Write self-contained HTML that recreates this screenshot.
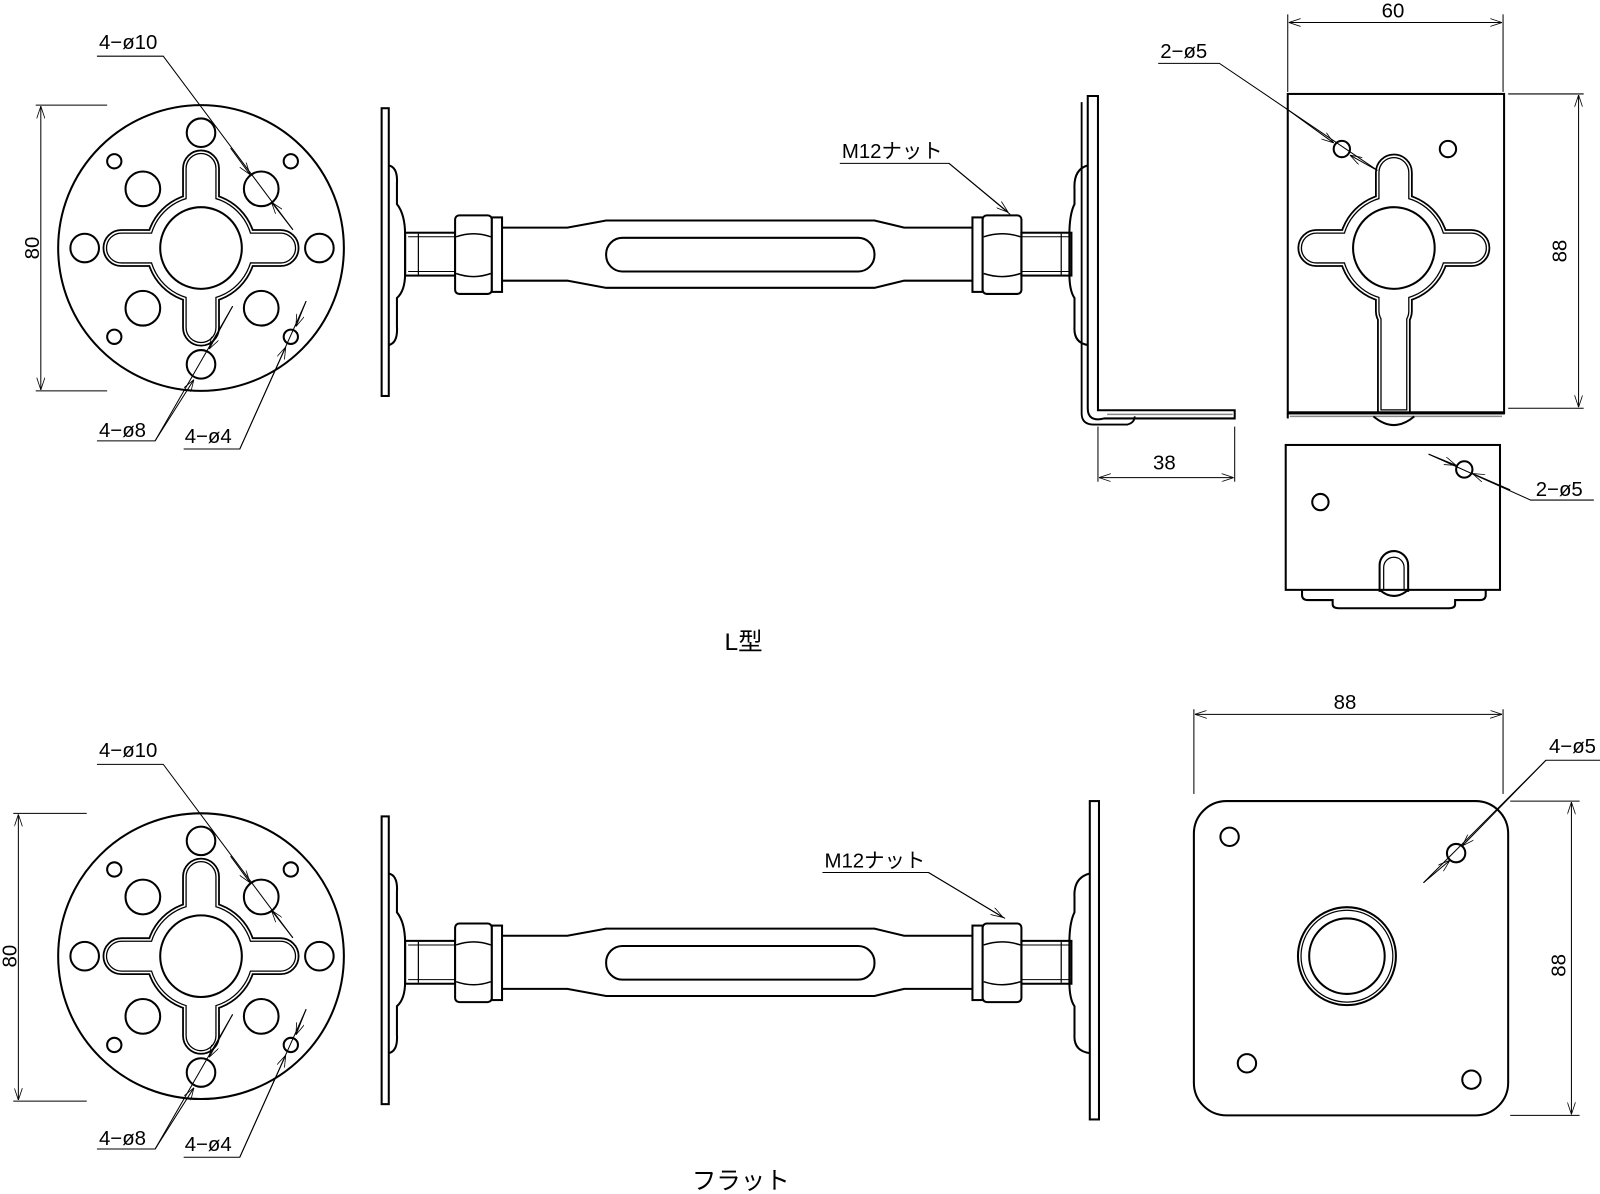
<!DOCTYPE html>
<html><head><meta charset="utf-8"><style>
html,body{margin:0;padding:0;background:#fff;}
svg{display:block;}
text{font-family:"Liberation Sans","Noto Sans CJK JP",sans-serif;fill:#000;}
</style></head><body>
<svg width="1600" height="1194" viewBox="0 0 1568 1170" xmlns="http://www.w3.org/2000/svg">
<defs>
<marker id="ar" viewBox="0 0 12 8" refX="12" refY="4" markerWidth="12" markerHeight="8" markerUnits="userSpaceOnUse" orient="auto-start-reverse">
<path d="M0,0 L12,4 L0,8" fill="none" stroke="#000" stroke-width="0.8"/>
</marker>
<g id="crossShapes">
<circle cx="0" cy="0" r="50"/>
<rect x="-92" y="-14" width="184" height="28" rx="14"/>
<rect x="-14" y="-92" width="28" height="184" rx="14"/>
</g>
<g id="roundplate">
<circle cx="0" cy="0" r="140" fill="#fff" stroke="#000" stroke-width="2"/>
<use href="#crossShapes" fill="none" stroke="#000" stroke-width="9"/>
<use href="#crossShapes" fill="none" stroke="#fff" stroke-width="5.5"/>
<use href="#crossShapes" fill="none" stroke="#000" stroke-width="2.5"/>
<use href="#crossShapes" fill="#fff" stroke="none"/>
<circle cx="0" cy="0" r="40" fill="none" stroke="#000" stroke-width="2"/>
<g fill="none" stroke="#000" stroke-width="2">
<circle cx="-57" cy="-58" r="17"/><circle cx="59" cy="-58" r="17"/>
<circle cx="-57" cy="59" r="17"/><circle cx="59" cy="59" r="17"/>
<circle cx="0" cy="-113" r="14"/><circle cx="0" cy="114" r="14"/>
<circle cx="-114" cy="0" r="14"/><circle cx="116" cy="0" r="14"/>
<circle cx="-85" cy="-85" r="7"/><circle cx="88" cy="-85" r="7"/>
<circle cx="-85" cy="87" r="7"/><circle cx="88" cy="87" r="7"/>
</g>
</g>
<g id="rod" fill="none" stroke="#000" stroke-width="2">
<rect x="374" y="106" width="7" height="282" fill="#fff"/>
<path d="M381,162 Q390,164 389,180 L389,200 Q397,210 397,230 L397,268 Q397,285 389,292 L389,320 Q390,336 381,338"/>
<rect x="397" y="228" width="49" height="42"/>
<line x1="400" y1="232" x2="446" y2="232" stroke-width="1"/><line x1="400" y1="266" x2="446" y2="266" stroke-width="1"/>
<line x1="410" y1="229" x2="410" y2="269" stroke-width="1.2"/>
<rect x="446" y="211" width="36" height="77" rx="4" fill="#fff"/>
<path d="M447,232 Q464,226 481,232 M447,268 Q464,274 481,268" stroke-width="1.5"/>
<rect x="482" y="213" width="10" height="73" fill="#fff"/>
<path d="M492,223 L556,223 L594,216 L857,216 L886,223 L953,223 M492,275 L556,275 L594,282 L857,282 L886,275 L953,275"/>
<rect x="594" y="233" width="263" height="33" rx="16"/>
<rect x="953" y="213" width="10" height="73" fill="#fff"/>
<rect x="963" y="211" width="38" height="77" rx="4" fill="#fff"/>
<path d="M964,232 Q982,226 1000,232 M964,268 Q982,274 1000,268" stroke-width="1.5"/>
<rect x="1001" y="228" width="49" height="42"/>
<line x1="1001" y1="232" x2="1048" y2="232" stroke-width="1"/><line x1="1001" y1="266" x2="1048" y2="266" stroke-width="1"/>
<line x1="1040" y1="229" x2="1040" y2="269" stroke-width="1.2"/>
</g>
</defs>

<!-- ===== TOP (L型) ===== -->
<use href="#roundplate" x="197" y="243"/>
<use href="#rod"/>
<path d="M1066,162 Q1052,166 1053,185 L1053,200 Q1048,210 1048,230 L1048,268 Q1048,285 1053,292 L1053,320 Q1052,336 1066,338" fill="none" stroke="#000" stroke-width="2"/>
<path d="M1066,94 L1076,94 L1076,402 L1210,402 L1210,410 L1082,410 Q1066,414 1066,400 Z" fill="#fff" stroke="#000" stroke-width="2"/>
<path d="M1060,100 L1060,405 Q1060,416 1072,416 L1105,416 Q1112,414 1112,408" fill="none" stroke="#000" stroke-width="1.8"/>
<line x1="1085" y1="406" x2="1208" y2="406" stroke="#888" stroke-width="1.5"/>

<!-- right top view -->
<g fill="none" stroke="#000" stroke-width="2">
<rect x="1262" y="92" width="212" height="313" fill="#fff"/>
<line x1="1264" y1="408" x2="1472" y2="408" stroke="#888" stroke-width="1.5"/>
<line x1="1262" y1="405" x2="1262" y2="410"/>
<path d="M1346,408 Q1366,425 1386,408"/>
</g>
<defs>
<g id="crossR">
<circle cx="0" cy="0" r="50"/>
<rect x="-90" y="-14" width="180" height="28" rx="14"/>
<rect x="-14" y="-88" width="28" height="164" rx="14"/>
<rect x="-12" y="0" width="24" height="158"/>
</g>
</defs>
<g transform="translate(1366,243)">
<use href="#crossR" fill="none" stroke="#000" stroke-width="9"/>
<use href="#crossR" fill="none" stroke="#fff" stroke-width="5.5"/>
<use href="#crossR" fill="none" stroke="#000" stroke-width="2.5"/>
<use href="#crossR" fill="#fff" stroke="none"/>
<circle cx="0" cy="0" r="40" fill="none" stroke="#000" stroke-width="2"/>
</g>
<rect x="1262" y="403" width="212" height="3" fill="#000"/>
<g fill="none" stroke="#000" stroke-width="2">
<circle cx="1315" cy="146" r="8"/><circle cx="1419" cy="146" r="8"/>
<!-- bottom view -->
<rect x="1260" y="436" width="210" height="142" fill="#fff"/>
<circle cx="1294" cy="492" r="8"/><circle cx="1435" cy="460" r="8"/>
<path d="M1352,580 L1352,554 A14,14 0 0 1 1380,554 L1380,580"/>
<path d="M1356,578 L1356,556 A10,10 0 0 1 1376,556 L1376,578" stroke-width="1.2"/>
<path d="M1352,578 Q1366,590 1380,578"/>
<path d="M1276,578 L1276,583 Q1276,588 1282,588 L1306,588 L1306,592 Q1306,596 1312,596 L1420,596 Q1426,596 1426,592 L1426,588 L1450,588 Q1456,588 1456,583 L1456,578"/>
</g>

<!-- top dims -->
<g fill="none" stroke="#000" stroke-width="1">
<line x1="35" y1="103" x2="105" y2="103"/><line x1="35" y1="383" x2="105" y2="383"/>
<line x1="40" y1="104" x2="40" y2="382" marker-start="url(#ar)" marker-end="url(#ar)"/>
<path d="M95,55 L160,55 L287,225"/>
<line x1="226" y1="145" x2="245" y2="171" marker-end="url(#ar)"/>
<line x1="287" y1="225" x2="266" y2="198" marker-end="url(#ar)"/>
<path d="M95,432 L152,432 L228,300"/>
<line x1="152" y1="432" x2="190" y2="372" marker-end="url(#ar)"/>
<line x1="228" y1="300" x2="205" y2="342" marker-end="url(#ar)"/>
<path d="M180,440 L235,440 L300,295"/>
<line x1="235" y1="440" x2="280" y2="340" marker-end="url(#ar)"/>
<line x1="300" y1="295" x2="290" y2="320" marker-end="url(#ar)"/>
<path d="M823,160 L930,160 L990,210"/>
<line x1="930" y1="160" x2="988" y2="208" marker-end="url(#ar)"/>
<line x1="1262" y1="14" x2="1262" y2="90"/><line x1="1473" y1="14" x2="1473" y2="90"/>
<line x1="1263" y1="22" x2="1472" y2="22" marker-start="url(#ar)" marker-end="url(#ar)"/>
<path d="M1135,62 L1195,62 L1350,167"/>
<line x1="1260" y1="106" x2="1307" y2="140" marker-end="url(#ar)"/>
<line x1="1348" y1="166" x2="1323" y2="152" marker-end="url(#ar)"/>
<line x1="1478" y1="92" x2="1552" y2="92"/><line x1="1478" y1="400" x2="1552" y2="400"/>
<line x1="1547" y1="93" x2="1547" y2="399" marker-start="url(#ar)" marker-end="url(#ar)"/>
<line x1="1076" y1="418" x2="1076" y2="472"/><line x1="1210" y1="418" x2="1210" y2="472"/>
<line x1="1077" y1="468" x2="1209" y2="468" marker-start="url(#ar)" marker-end="url(#ar)"/>
<path d="M1562,490 L1500,490 L1400,445"/>
<line x1="1400" y1="445" x2="1427" y2="456" marker-end="url(#ar)"/>
<line x1="1480" y1="480" x2="1443" y2="464" marker-end="url(#ar)"/>
</g>
<g font-size="20">
<text x="97" y="48">4−ø10</text>
<text x="97" y="428">4−ø8</text>
<text x="181" y="434">4−ø4</text>
<text x="825" y="155">M12ナット</text>
<text x="1354" y="17">60</text>
<text x="1137" y="57">2−ø5</text>
<text x="1130" y="460">38</text>
<text x="1505" y="486">2−ø5</text>
<text transform="translate(38,243) rotate(-90)" text-anchor="middle">80</text>
<text transform="translate(1535,246) rotate(-90)" text-anchor="middle">88</text>
</g>
<text x="710" y="637" font-size="24">L型</text>

<!-- ===== BOTTOM (フラット) ===== -->
<use href="#roundplate" x="197" y="937"/>
<use href="#rod" y="694"/>
<path d="M1068,856 Q1052,860 1053,879 L1053,894 Q1048,904 1048,924 L1048,962 Q1048,979 1053,986 L1053,1014 Q1052,1030 1068,1032" fill="none" stroke="#000" stroke-width="2"/>
<rect x="1068" y="785" width="9" height="312" fill="#fff" stroke="#000" stroke-width="2"/>

<g fill="none" stroke="#000" stroke-width="2">
<rect x="1170" y="785" width="308" height="308" rx="32" fill="#fff"/>
<circle cx="1320" cy="937" r="48"/><circle cx="1320" cy="937" r="45" stroke-width="1.2"/><circle cx="1320" cy="937" r="37"/>
<circle cx="1205" cy="820" r="9"/><circle cx="1427" cy="836" r="9"/>
<circle cx="1222" cy="1042" r="9"/><circle cx="1442" cy="1058" r="9"/>
</g>
<g fill="none" stroke="#000" stroke-width="1">
<line x1="13" y1="797" x2="85" y2="797"/><line x1="13" y1="1079" x2="85" y2="1079"/>
<line x1="18" y1="798" x2="18" y2="1078" marker-start="url(#ar)" marker-end="url(#ar)"/>
<path d="M95,749 L160,749 L287,919"/>
<line x1="226" y1="839" x2="245" y2="865" marker-end="url(#ar)"/>
<line x1="287" y1="919" x2="266" y2="892" marker-end="url(#ar)"/>
<path d="M95,1126 L152,1126 L228,994"/>
<line x1="152" y1="1126" x2="190" y2="1066" marker-end="url(#ar)"/>
<line x1="228" y1="994" x2="205" y2="1036" marker-end="url(#ar)"/>
<path d="M180,1134 L235,1134 L300,989"/>
<line x1="235" y1="1134" x2="280" y2="1034" marker-end="url(#ar)"/>
<line x1="300" y1="989" x2="290" y2="1014" marker-end="url(#ar)"/>
<path d="M806,855 L910,855 L985,900"/>
<line x1="910" y1="855" x2="983" y2="899" marker-end="url(#ar)"/>
<line x1="1170" y1="695" x2="1170" y2="778"/><line x1="1473" y1="695" x2="1473" y2="778"/>
<line x1="1171" y1="700" x2="1472" y2="700" marker-start="url(#ar)" marker-end="url(#ar)"/>
<path d="M1568,745 L1515,745 L1395,865"/>
<line x1="1515" y1="745" x2="1433" y2="829" marker-end="url(#ar)"/>
<line x1="1395" y1="865" x2="1421" y2="843" marker-end="url(#ar)"/>
<line x1="1480" y1="785" x2="1548" y2="785"/><line x1="1480" y1="1093" x2="1548" y2="1093"/>
<line x1="1540" y1="786" x2="1540" y2="1092" marker-start="url(#ar)" marker-end="url(#ar)"/>
</g>
<g font-size="20">
<text x="97" y="742">4−ø10</text>
<text x="97" y="1122">4−ø8</text>
<text x="181" y="1128">4−ø4</text>
<text x="808" y="850">M12ナット</text>
<text x="1307" y="695">88</text>
<text x="1518" y="738">4−ø5</text>
<text transform="translate(16,937) rotate(-90)" text-anchor="middle">80</text>
<text transform="translate(1534,946) rotate(-90)" text-anchor="middle">88</text>
</g>
<text x="678" y="1165" font-size="24">フラット</text>
</svg>
</body></html>
